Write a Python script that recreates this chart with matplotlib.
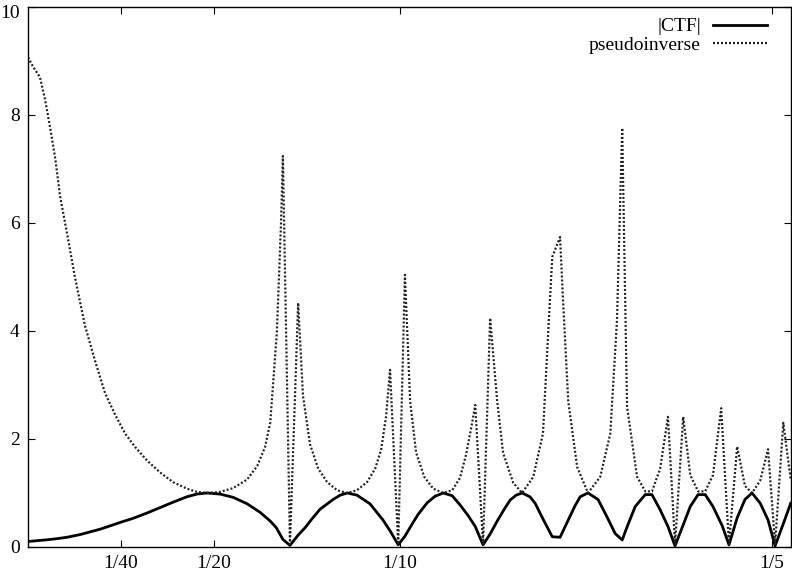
import numpy as np
import matplotlib.pyplot as plt
import matplotlib.transforms as mtransforms

plt.rcParams['font.family'] = ['Liberation Serif', 'DejaVu Serif']

# |CTF| samples (spatial frequency, amplitude)
ctf_freq = [0.0000, 0.0013, 0.0046, 0.0073, 0.0105, 0.0140, 0.0167, 0.0194, 0.0220, 0.0250,
            0.0282, 0.0320, 0.0355, 0.0390, 0.0427, 0.0454, 0.0481, 0.0516, 0.0551, 0.0589,
            0.0624, 0.0651, 0.0667, 0.0685, 0.0704, 0.0726, 0.0745, 0.0763, 0.0785, 0.0820,
            0.0839, 0.0858, 0.0884, 0.0919, 0.0954, 0.0973, 0.0995, 0.1013, 0.1032, 0.1048,
            0.1073, 0.1094, 0.1116, 0.1140, 0.1161, 0.1183, 0.1202, 0.1223, 0.1242, 0.1261,
            0.1280, 0.1296, 0.1312, 0.1328, 0.1349, 0.1363, 0.1384, 0.1409, 0.1430, 0.1452,
            0.1470, 0.1484, 0.1505, 0.1532, 0.1556, 0.1578, 0.1597, 0.1610, 0.1632, 0.1659,
            0.1677, 0.1699, 0.1720, 0.1739, 0.1761, 0.1780, 0.1801, 0.1820, 0.1841, 0.1866,
            0.1884, 0.1906, 0.1927, 0.1946, 0.1968, 0.1989, 0.2008, 0.2030, 0.2050]
ctf_amp = [0.10, 0.11, 0.13, 0.15, 0.18, 0.23, 0.28, 0.33, 0.39, 0.46,
           0.53, 0.63, 0.73, 0.83, 0.93, 0.98, 1.00, 0.98, 0.92, 0.80,
           0.64, 0.48, 0.36, 0.14, 0.03, 0.22, 0.36, 0.52, 0.70, 0.88,
           0.96, 1.00, 0.96, 0.80, 0.50, 0.30, 0.04, 0.20, 0.42, 0.60,
           0.82, 0.94, 1.00, 0.95, 0.78, 0.58, 0.38, 0.04, 0.24, 0.48,
           0.70, 0.87, 0.96, 1.00, 0.93, 0.81, 0.52, 0.19, 0.18, 0.50,
           0.76, 0.93, 1.00, 0.88, 0.56, 0.25, 0.13, 0.37, 0.75, 0.97,
           0.97, 0.69, 0.38, 0.02, 0.41, 0.75, 0.97, 0.97, 0.75, 0.39,
           0.04, 0.54, 0.88, 1.00, 0.81, 0.50, 0.02, 0.43, 0.81]

# pseudoinverse samples
pinv_freq = [0.0000, 0.0013, 0.0032, 0.0046, 0.0059, 0.0073, 0.0086, 0.0105, 0.0126, 0.0153,
             0.0180, 0.0207, 0.0234, 0.0261, 0.0288, 0.0320, 0.0355, 0.0390, 0.0427, 0.0454,
             0.0481, 0.0516, 0.0551, 0.0589, 0.0616, 0.0637, 0.0651, 0.0669, 0.0680, 0.0685,
             0.0704, 0.0726, 0.0739, 0.0758, 0.0780, 0.0804, 0.0831, 0.0858, 0.0884, 0.0911,
             0.0933, 0.0949, 0.0962, 0.0973, 0.0995, 0.1013, 0.1027, 0.1043, 0.1065, 0.1089,
             0.1116, 0.1140, 0.1161, 0.1177, 0.1191, 0.1202, 0.1223, 0.1242, 0.1261, 0.1277,
             0.1304, 0.1328, 0.1358, 0.1384, 0.1398, 0.1409, 0.1430, 0.1438, 0.1452, 0.1476,
             0.1505, 0.1538, 0.1565, 0.1583, 0.1597, 0.1610, 0.1637, 0.1659, 0.1677, 0.1699,
             0.1720, 0.1739, 0.1761, 0.1780, 0.1801, 0.1820, 0.1841, 0.1863, 0.1884, 0.1906,
             0.1927, 0.1946, 0.1968, 0.1989, 0.2008, 0.2030, 0.2050]
pinv_amp = [9.07, 8.90, 8.70, 8.28, 7.78, 7.20, 6.50, 5.80, 5.00, 4.10,
            3.45, 2.85, 2.45, 2.10, 1.85, 1.60, 1.38, 1.20, 1.08, 1.02,
            1.00, 1.02, 1.09, 1.25, 1.50, 1.85, 2.30, 4.00, 6.00, 7.24,
            0.05, 4.52, 2.80, 1.90, 1.45, 1.20, 1.05, 1.00, 1.05, 1.20,
            1.45, 1.80, 2.40, 3.28, 0.05, 5.04, 2.70, 1.75, 1.30, 1.08,
            1.00, 1.05, 1.28, 1.70, 2.20, 2.63, 0.05, 4.24, 2.70, 1.74,
            1.19, 1.00, 1.30, 2.10, 3.96, 5.37, 5.74, 4.57, 2.70, 1.48,
            1.00, 1.30, 2.10, 4.20, 7.76, 2.60, 1.30, 1.03, 1.03, 1.45,
            2.41, 0.05, 2.41, 1.33, 1.03, 1.03, 1.33, 2.57, 0.05, 1.86,
            1.13, 1.00, 1.23, 1.81, 0.05, 2.30, 1.24]

xtick_pos = [1/40, 1/20, 1/10, 1/5]
xtick_lab = ['1/40', '1/20', '1/10', '1/5']
ytick_pos = [0, 2, 4, 6, 8, 10]

fig = plt.figure(figsize=(7.92, 5.73), dpi=100)
ax = fig.add_axes([0.0354, 0.0454, 0.963, 0.9424])

ax.plot(ctf_freq, ctf_amp, color='black', lw=2.0, label='|CTF|')
ax.plot(pinv_freq, pinv_amp, color='#222222', lw=1.6, dashes=(0.9, 0.9),
        label='pseudoinverse')

ax.set_xlim(0, 0.205)
ax.set_ylim(0, 10)
ax.set_xticks(xtick_pos)
ax.set_xticklabels(xtick_lab)
ax.set_yticks(ytick_pos)
ax.tick_params(direction='in', length=5, width=0.8, top=True, right=True,
               labelsize=14)
ax.tick_params(axis='x', pad=6)
ax.tick_params(axis='y', pad=6)
for s in ax.spines.values():
    s.set_linewidth(1.0)

# keep the top "10" label inside the canvas
top_lab = ax.get_yticklabels()[-1]
top_lab.set_transform(top_lab.get_transform() +
                      mtransforms.ScaledTranslation(0, -3 / 72, fig.dpi_scale_trans))

ax.legend(loc='upper right', bbox_to_anchor=(0.969, 0.98), markerfirst=False,
          frameon=False, fontsize=14, handlelength=2.8, handletextpad=0.6,
          labelspacing=0.05, borderpad=0, borderaxespad=0)

fig.savefig('out.png', dpi=100)
